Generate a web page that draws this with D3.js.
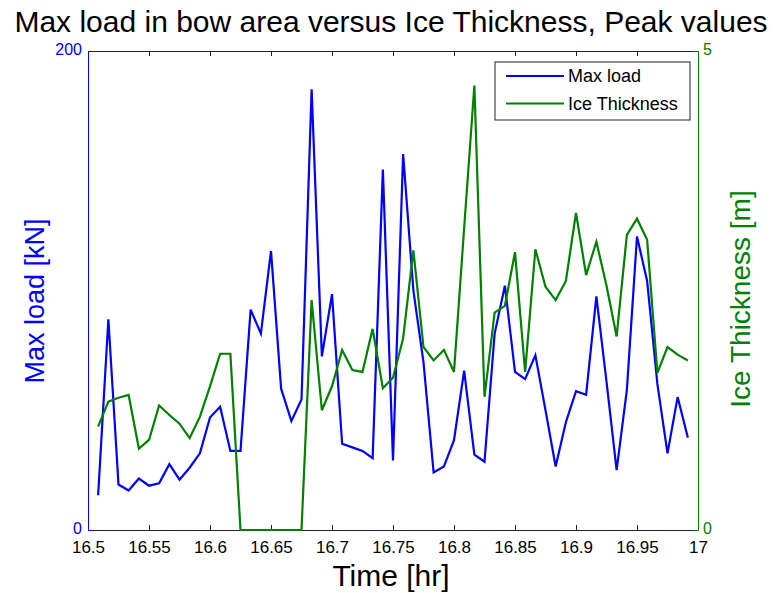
<!DOCTYPE html>
<html>
<head>
<meta charset="utf-8">
<script src="https://cdn.jsdelivr.net/npm/d3@7"></script>
<style>
  body { margin: 0; background: #fff; }
  text { font-family: "Liberation Sans", Arial, sans-serif; }
</style>
</head>
<body>
<div id="chart"></div>
<script>
// time stamps [hr]
var times = [16.5083, 16.5167, 16.525, 16.5333, 16.5417, 16.55, 16.5583, 16.5667, 16.575, 16.5833,
    16.5917, 16.6, 16.6083, 16.6167, 16.625, 16.6333, 16.6417, 16.65, 16.6583, 16.6667,
    16.675, 16.6833, 16.6917, 16.7, 16.7083, 16.7167, 16.725, 16.7333, 16.7417, 16.75,
    16.7583, 16.7667, 16.775, 16.7833, 16.7917, 16.8, 16.8083, 16.8167, 16.825, 16.8333,
    16.8417, 16.85, 16.8583, 16.8667, 16.875, 16.8833, 16.8917, 16.9, 16.9083, 16.9167,
    16.925, 16.9333, 16.9417, 16.95, 16.9583, 16.9667, 16.975, 16.9833, 16.9917]

// max load [kN]
var maxLoad = [14.5, 88, 19, 16.5, 21.5, 18.5, 19.5, 27.5, 21, 26,
    32, 47, 51.5, 33, 33, 92, 82, 116.5, 59, 45.5,
    54.5, 184, 72.5, 98.5, 36, 34.5, 33, 30, 150.5, 29,
    157, 100, 70, 24, 26.5, 37.5, 66.5, 31.5, 28.5, 82,
    102, 66, 63, 73, 50, 26.5, 45, 58, 56.5, 97.5,
    62, 25, 58.5, 122.5, 104, 61, 32, 55.5, 38.5]

// ice thickness [m]
var iceThickness = [1.08, 1.34, 1.38, 1.41, 0.85, 0.94, 1.30, 1.20, 1.11, 0.96,
    1.18, 1.50, 1.84, 1.84, 0, 0, 0, 0, 0, 0,
    0, 2.40, 1.25, 1.50, 1.88, 1.67, 1.65, 2.10, 1.48, 1.59,
    2.00, 2.92, 1.91, 1.77, 1.88, 1.65, 3.15, 4.64, 1.39, 2.27,
    2.34, 2.90, 1.65, 2.93, 2.54, 2.40, 2.60, 3.31, 2.66, 3.01,
    2.55, 2.02, 3.08, 3.25, 3.03, 1.64, 1.91, 1.83, 1.77]

var xTicks = [16.5, 16.55, 16.6, 16.65, 16.7, 16.75, 16.8, 16.85, 16.9, 16.95, 17]
var loadTicks = [0, 200]
var iceTicks = [0, 5]

var width = 775, height = 593
var margin = { left: 88, right: 77, top: 51, bottom: 63 }
var plotW = width - margin.left - margin.right
var plotH = height - margin.top - margin.bottom

var blue = "#0000ff"
var green = "#008000"

var svg = d3.select("#chart")
    .append("svg")
    .attr("width", width)
    .attr("height", height)

var x = d3.scaleLinear().domain([16.5, 17]).range([margin.left, margin.left + plotW])
var yLoad = d3.scaleLinear().domain([0, 200]).range([margin.top + plotH, margin.top])
var yIce = d3.scaleLinear().domain([0, 5]).range([margin.top + plotH, margin.top])

// axes
var fmt = function (d) { return String(+d.toFixed(2)) }

var xAxisBottom = svg.append("g")
    .attr("transform", "translate(0," + (margin.top + plotH) + ")")
    .call(d3.axisBottom(x).tickValues(xTicks).tickFormat(fmt).tickSizeInner(-5).tickSizeOuter(0).tickPadding(11))
xAxisBottom.select(".domain").attr("stroke", "#222")
xAxisBottom.selectAll(".tick line").attr("stroke", "#222")
xAxisBottom.selectAll("text").style("font-size", "17px").attr("fill", "#000")

var xAxisTop = svg.append("g")
    .attr("transform", "translate(0," + margin.top + ")")
    .call(d3.axisTop(x).tickValues(xTicks).tickFormat("").tickSizeInner(-5).tickSizeOuter(0))
xAxisTop.select(".domain").attr("stroke", "#222")
xAxisTop.selectAll(".tick line").attr("stroke", "#222")

var yAxisLeft = svg.append("g")
    .attr("transform", "translate(" + margin.left + ",0)")
    .call(d3.axisLeft(yLoad).tickValues(loadTicks).tickFormat(d3.format("d")).tickSizeInner(-5).tickSizeOuter(0).tickPadding(6))
yAxisLeft.select(".domain").attr("stroke", blue)
yAxisLeft.selectAll(".tick line").attr("stroke", blue)
yAxisLeft.selectAll("text").style("font-size", "16px").attr("fill", blue).attr("dy", "0.2em")

var yAxisRight = svg.append("g")
    .attr("transform", "translate(" + (margin.left + plotW) + ",0)")
    .call(d3.axisRight(yIce).tickValues(iceTicks).tickFormat(d3.format("d")).tickSizeInner(-5).tickSizeOuter(0).tickPadding(5))
yAxisRight.select(".domain").attr("stroke", green)
yAxisRight.selectAll(".tick line").attr("stroke", green)
yAxisRight.selectAll("text").style("font-size", "16px").attr("fill", green).attr("dy", "0.2em")

// lines
var loadLine = d3.line()
    .x(function (d, i) { return x(times[i]) })
    .y(function (d) { return yLoad(d) })

var iceLine = d3.line()
    .x(function (d, i) { return x(times[i]) })
    .y(function (d) { return yIce(d) })

svg.append("path")
    .datum(maxLoad)
    .attr("d", loadLine)
    .attr("fill", "none")
    .attr("stroke", blue)
    .attr("stroke-width", 2.2)

svg.append("path")
    .datum(iceThickness)
    .attr("d", iceLine)
    .attr("fill", "none")
    .attr("stroke", green)
    .attr("stroke-width", 2.2)

// titles
svg.append("text")
    .attr("x", 391)
    .attr("y", 32)
    .attr("text-anchor", "middle")
    .style("font-size", "30px")
    .text("Max load in bow area versus Ice Thickness, Peak values")

svg.append("text")
    .attr("x", 391)
    .attr("y", 586)
    .attr("text-anchor", "middle")
    .style("font-size", "30px")
    .text("Time [hr]")

svg.append("text")
    .attr("transform", "translate(44,301) rotate(-90)")
    .attr("text-anchor", "middle")
    .attr("fill", blue)
    .style("font-size", "27px")
    .text("Max load [kN]")

svg.append("text")
    .attr("transform", "translate(750,299) rotate(-90)")
    .attr("text-anchor", "middle")
    .attr("fill", green)
    .style("font-size", "28px")
    .text("Ice Thickness [m]")

// legend
var legend = svg.append("g").attr("transform", "translate(495,62)")
legend.append("rect")
    .attr("width", 195)
    .attr("height", 58)
    .attr("fill", "#fff")
    .attr("stroke", "#222")
    .attr("stroke-width", 1)

var legendItems = [
    { name: "Max load", color: blue },
    { name: "Ice Thickness", color: green }
]
legendItems.forEach(function (d, i) {
    var yy = 14 + i * 27.5
    legend.append("line")
        .attr("x1", 11).attr("x2", 69)
        .attr("y1", yy).attr("y2", yy)
        .attr("stroke", d.color)
        .attr("stroke-width", 2.2)
    legend.append("text")
        .attr("x", 73)
        .attr("y", yy + 6)
        .style("font-size", "18px")
        .text(d.name)
})
</script>
</body>
</html>
